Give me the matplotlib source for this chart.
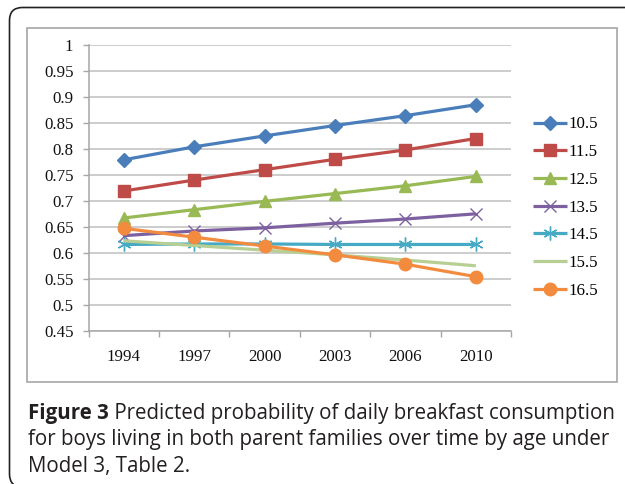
import numpy as np
import matplotlib
matplotlib.use("Agg")
import matplotlib.pyplot as plt
from matplotlib.patches import FancyBboxPatch, Rectangle

# ---- data ----
years = ["1994", "1997", "2000", "2003", "2006", "2010"]
ages = ["10.5", "11.5", "12.5", "13.5", "14.5", "15.5", "16.5"]
s105 = [0.779, 0.804, 0.825, 0.845, 0.864, 0.885]
s115 = [0.719, 0.740, 0.760, 0.780, 0.798, 0.820]
s125 = [0.667, 0.683, 0.699, 0.714, 0.729, 0.747]
s135 = [0.633, 0.642, 0.648, 0.657, 0.665, 0.675]
s145 = [0.616, 0.617, 0.617, 0.616, 0.616, 0.616]
s155 = [0.623, 0.614, 0.605, 0.596, 0.586, 0.575]
s165 = [0.647, 0.630, 0.613, 0.596, 0.578, 0.554]
y_ticks = [0.45, 0.5, 0.55, 0.6, 0.65, 0.7, 0.75, 0.8, 0.85, 0.9, 0.95, 1.0]
y_tick_labels = ["0.45", "0.5", "0.55", "0.6", "0.65", "0.7", "0.75", "0.8",
                 "0.85", "0.9", "0.95", "1"]
caption_bold = "Figure 3"
caption_lines = [" Predicted probability of daily breakfast consumption",
                 "for boys living in both parent families over time by age under",
                 "Model 3, Table 2."]

series = [s105, s115, s125, s135, s145, s155, s165]
colors = ["#4A7EBB", "#BE4B48", "#98B954", "#7D60A0", "#46AAC5", "#B7CF93", "#F38B3E"]
markers = ["D", "s", "^", "x", (6, 2, 0), None, "o"]
msizes = [7, 9, 8.5, 9, 10, 0, 9]

W, H = 625, 484
fs = 12.2
fig = plt.figure(figsize=(W / 100, H / 100), dpi=100)
fig.patch.set_facecolor("white")

# outer rounded box
outer = FancyBboxPatch((9.5 / 100, (H - 487) / 100), 7.0, (487 - 7.5) / 100,
                       boxstyle="round,pad=0,rounding_size=0.13",
                       transform=fig.dpi_scale_trans, fill=False,
                       edgecolor="#222222", linewidth=1.2, zorder=0)
fig.patches.append(outer)
# chart frame
frame = Rectangle((27 / W, 1 - 382 / H), (617 - 27) / W, (382 - 28) / H,
                  transform=fig.transFigure, fill=False,
                  edgecolor="#A6A6A6", linewidth=1.2, zorder=0)
fig.patches.append(frame)

ax = fig.add_axes([88.7 / W, 1 - 330.7 / H, (511 - 88.7) / W, (330.7 - 45) / H])
x = np.arange(len(years))
for i, (vals, lab) in enumerate(zip(series, ages)):
    m = markers[i]
    kw = dict(color=colors[i], linewidth=2.3, label=lab, zorder=3 + i,
              solid_capstyle="butt")
    if m is not None:
        if m in ("x", (6, 2, 0)):
            kw.update(marker=m, markersize=msizes[i], markeredgewidth=1.0,
                      markeredgecolor=colors[i])
        else:
            kw.update(marker=m, markersize=msizes[i], markeredgecolor=colors[i],
                      markerfacecolor=colors[i])
    ax.plot(x, vals, **kw)

ax.set_xlim(-0.5, len(years) - 0.5)
ax.set_ylim(0.45, 1.0)
ax.set_yticks(y_ticks)
ax.set_yticklabels(y_tick_labels)
ax.set_xticks(np.arange(-0.5, len(years), 1.0))
ax.set_xticklabels([])
ax.set_xticks(x, minor=True)
ax.set_xticklabels(years, minor=True)
ax.yaxis.grid(True, color="#BFBFBF", linewidth=1.1)
ax.set_axisbelow(True)
for sp in ["top", "right"]:
    ax.spines[sp].set_visible(False)
for sp in ["left", "bottom"]:
    ax.spines[sp].set_color("#A6A6A6")
    ax.spines[sp].set_linewidth(1.1)
ax.tick_params(axis="y", which="major", length=4, width=1.0, color="#A6A6A6",
               pad=7, labelsize=fs, labelcolor="#111111")
ax.tick_params(axis="x", which="major", length=4, width=1.0, color="#A6A6A6")
ax.tick_params(axis="x", which="minor", length=0, pad=13, labelsize=fs,
               labelcolor="#111111")
for t in ax.get_yticklabels() + ax.get_xticklabels(minor=True):
    t.set_fontfamily("Liberation Serif")

leg = ax.legend(loc="upper left", bbox_to_anchor=(533 / W, 1 - 116.5 / H),
                bbox_transform=fig.transFigure, frameon=False,
                prop=dict(family="Liberation Serif", size=fs),
                handlelength=2.0, handletextpad=0.1, labelspacing=0.69,
                borderaxespad=0, borderpad=0)

# caption
cap_font = dict(family="Open Sans", size=14.8, color="#231F20")
fig.canvas.draw()
r = fig.canvas.get_renderer()
y0 = 1 - 419.3 / H
tb = fig.text(28.3 / W, y0, caption_bold, fontweight="bold", va="baseline", **cap_font)
bb = tb.get_window_extent(r)
fig.text(bb.x1 / W, y0, caption_lines[0], va="baseline", **cap_font)
fig.text(28.3 / W, 1 - 445 / H, caption_lines[1], va="baseline", **cap_font)
fig.text(28.3 / W, 1 - 471.7 / H, caption_lines[2], va="baseline", **cap_font)

fig.savefig("out.png", dpi=100)
